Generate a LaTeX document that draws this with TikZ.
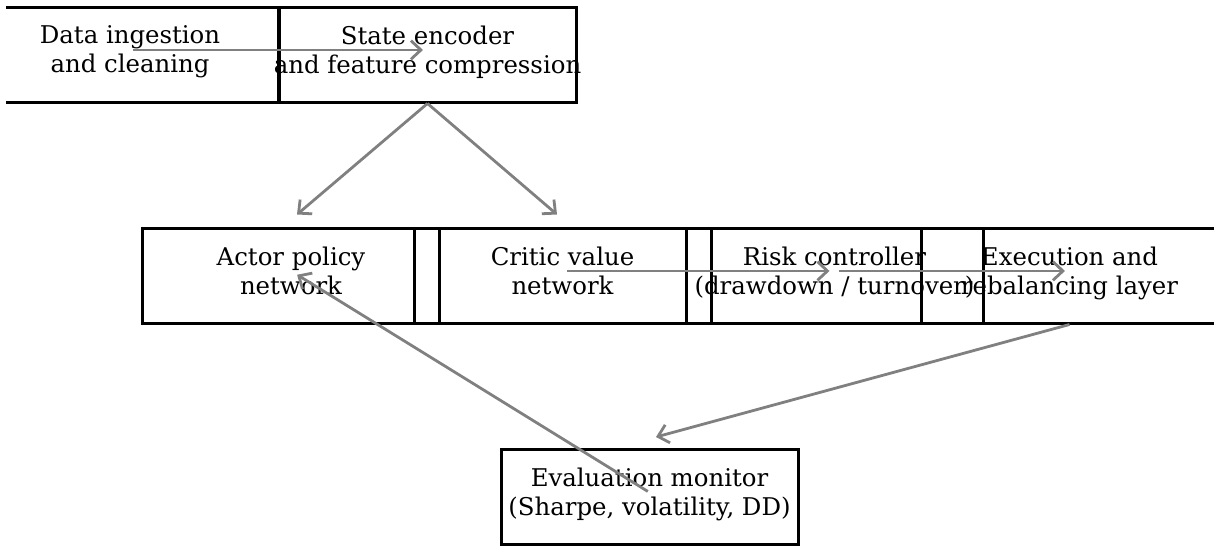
\documentclass[tikz,border=0pt]{standalone}
\usepackage{fontspec}
\setmainfont{DejaVu Serif}
\usetikzlibrary{arrows.meta,calc}
\definecolor{flowgray}{RGB}{128,128,128}
\newcommand\zl[1]{\makebox[0pt]{#1}}
\newcommand\zll[1]{\makebox[0pt]{#1}\rule[-7.5pt]{0pt}{0pt}}
\begin{document}
\begin{tikzpicture}[x=0.75pt,y=-0.75pt,
  blk/.style={draw=black,line width=2.25pt,minimum width=222.75pt,minimum height=71.25pt,
    inner sep=0pt,align=center,font=\fontsize{18.3pt}{21.75pt}\selectfont},
  flow/.style={draw=flowgray,line width=2.1pt,
    -{Straight Barb[length=7.5pt,width=14pt,line width=2.1pt]}}]
\useasboundingbox (0,0) rectangle (1214,547);
\clip (6,0) rectangle (1214,547);
\node[blk] (ing) at (130,54.5) {\zl{Data ingestion}\\\zll{and cleaning}};
\node[blk] (enc) at (427.5,54.5) {\zl{State encoder}\\\zll{and feature compression}};
\node[blk] (act) at (291,275.5) {\zl{Actor policy}\\\zll{network}};
\node[blk] (cri) at (562.5,275.5) {\zl{Critic value}\\\zll{network}};
\node[blk] (risk) at (834.5,275.5) {\zl{Risk controller}\\\zll{(drawdown / turnover)}};
\node[blk] (exe) at (1069.5,275.5) {\zl{Execution and}\\\zll{rebalancing layer}};
\node[blk] (eva) at (649.5,497) {\zl{Evaluation monitor}\\\zll{(Sharpe, volatility, DD)}};
\draw[flow,shorten <=2.25pt,shorten >=3.4pt] ([yshift=3.4pt]ing.center) -- ([yshift=3.4pt]enc.center);
\draw[flow] (enc.south) -- ($(act.north)+(6,-12)$);
\draw[flow] (enc.south) -- ($(cri.north)+(-5.5,-12)$);
\draw[flow,shorten <=3.4pt,shorten >=3.75pt] ([yshift=3.4pt]cri.center) -- ([yshift=3.4pt]risk.center);
\draw[flow,shorten <=3pt,shorten >=3.4pt] ([yshift=3.4pt]risk.center) -- ([yshift=3.4pt]exe.center);
\draw[flow] (exe.south) -- ($(eva.north)+(6.5,-11)$);
\draw[flow,shorten <=1.5pt,shorten >=5.4pt] ([yshift=3.4pt]eva.center) -- ([yshift=3.4pt]act.center);
\end{tikzpicture}
\end{document}
